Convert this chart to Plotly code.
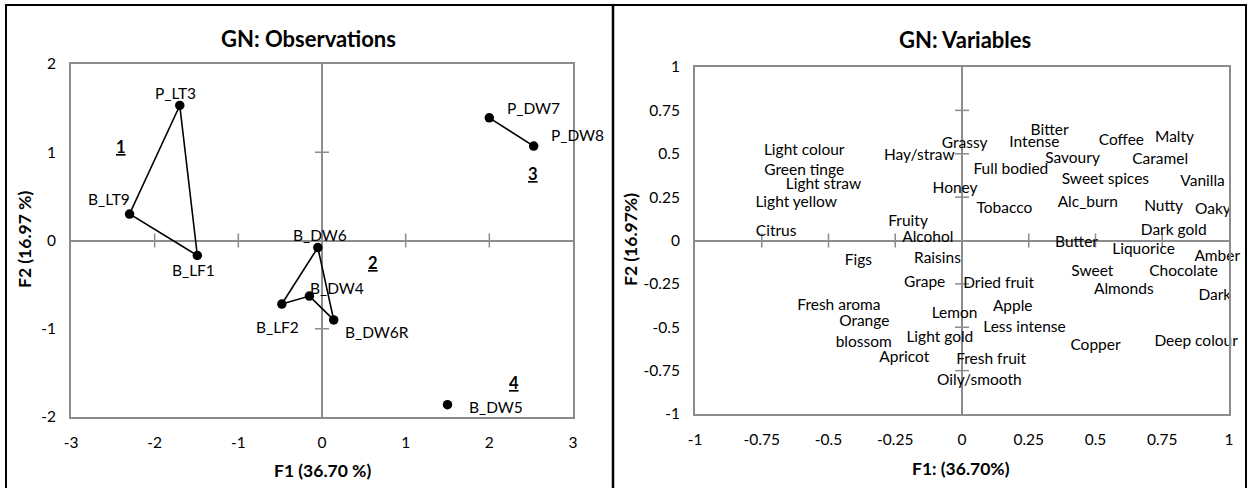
import plotly.graph_objects as go

# ---------------- Data ----------------
obs_names = ["P_LT3", "B_LT9", "B_LF1", "P_DW7", "P_DW8", "B_DW6", "B_DW4", "B_LF2", "B_DW6R", "B_DW5"]
obs_f1 = [-1.70, -2.30, -1.49, 2.00, 2.53, -0.05, -0.15, -0.48, 0.14, 1.50]
obs_f2 = [1.53, 0.30, -0.17, 1.39, 1.07, -0.08, -0.63, -0.72, -0.90, -1.86]

group1 = ["P_LT3", "B_LT9", "B_LF1", "P_LT3"]
group2 = ["B_DW6", "B_LF2", "B_DW4", "B_DW6R", "B_DW6"]
group3 = ["P_DW7", "P_DW8"]

group_labels = ["1", "2", "3", "4"]
group_f1 = [-2.40, 0.61, 2.52, 2.30]
group_f2 = [1.06, -0.25, 0.75, -1.61]

var_names = ["Light colour", "Green tinge", "Light straw", "Light yellow", "Citrus", "Hay/straw",
             "Grassy", "Honey", "Fruity", "Alcohol", "Figs", "Raisins", "Grape", "Dried fruit",
             "Fresh aroma", "Orange", "blossom", "Lemon", "Apple", "Less intense", "Light gold",
             "Apricot", "Fresh fruit", "Oily/smooth", "Bitter", "Intense", "Coffee", "Malty",
             "Full bodied", "Savoury", "Caramel", "Sweet spices", "Vanilla", "Tobacco", "Alc_burn",
             "Nutty", "Oaky", "Dark gold", "Butter", "Liquorice", "Amber", "Sweet", "Chocolate",
             "Almonds", "Dark", "Copper", "Deep colour"]
var_f1 = [-0.591, -0.591, -0.519, -0.621, -0.696, -0.160, 0.010, -0.026, -0.202, -0.128, -0.388,
          -0.092, -0.140, 0.137, -0.461, -0.366, -0.368, -0.028, 0.190, 0.234, -0.083, -0.216,
          0.109, 0.065, 0.328, 0.271, 0.597, 0.796, 0.183, 0.414, 0.742, 0.537, 0.901, 0.159,
          0.471, 0.755, 0.940, 0.793, 0.429, 0.680, 0.956, 0.488, 0.830, 0.606, 0.947, 0.500, 0.877]
var_f2 = [0.515, 0.400, 0.319, 0.218, 0.051, 0.488, 0.555, 0.296, 0.108, 0.011, -0.116, -0.108,
          -0.244, -0.254, -0.379, -0.473, -0.592, -0.427, -0.386, -0.503, -0.561, -0.676, -0.691,
          -0.812, 0.632, 0.563, 0.574, 0.592, 0.405, 0.469, 0.465, 0.348, 0.338, 0.183, 0.218,
          0.191, 0.175, 0.053, -0.014, -0.058, -0.093, -0.185, -0.181, -0.288, -0.321, -0.607, -0.586]

left_xticks = [-3, -2, -1, 0, 1, 2, 3]
left_yticks = [-2, -1, 0, 1, 2]
right_ticks = [-1, -0.75, -0.5, -0.25, 0, 0.25, 0.5, 0.75, 1]

# label offsets (pixels) for observation names: (xshift, yshift)
obs_label_shift = {
    "P_LT3": (-4, 12), "B_LT9": (-21, 15), "B_LF1": (-4, -14), "P_DW7": (44, 10),
    "P_DW8": (44, 11), "B_DW6": (2, 13), "B_DW4": (28, 8), "B_LF2": (-4, -23),
    "B_DW6R": (43, -12), "B_DW5": (48, -2),
}

FONT = "Lato"
GREY = "#8c8c8c"


def fmt(v):
    return f"{v:g}"


fig = go.Figure()
idx = {n: i for i, n in enumerate(obs_names)}

# group polygons
for grp in (group1, group2, group3):
    fig.add_trace(go.Scatter(
        x=[obs_f1[idx[n]] for n in grp], y=[obs_f2[idx[n]] for n in grp],
        mode="lines", line=dict(color="black", width=1.6),
        xaxis="x", yaxis="y", showlegend=False, hoverinfo="skip"))

tick_marker_x = dict(symbol="line-ns-open", size=10, color=GREY, line=dict(color=GREY, width=1.5))
tick_marker_y = dict(symbol="line-ew-open", size=10, color=GREY, line=dict(color=GREY, width=1.5))

# tick crosses on zero lines (left)
lx = [t for t in left_xticks if t not in (0, -3, 3)]
ly = [t for t in left_yticks if t not in (0, -2, 2)]
fig.add_trace(go.Scatter(x=lx, y=[0] * len(lx), mode="markers", marker=tick_marker_x,
                         xaxis="x", yaxis="y", showlegend=False, hoverinfo="skip"))
fig.add_trace(go.Scatter(x=[0] * len(ly), y=ly, mode="markers", marker=tick_marker_y,
                         xaxis="x", yaxis="y", showlegend=False, hoverinfo="skip"))

# observation points
fig.add_trace(go.Scatter(x=obs_f1, y=obs_f2, mode="markers",
                         marker=dict(color="black", size=9.5),
                         xaxis="x", yaxis="y", showlegend=False))

# tick crosses on zero lines (right)
rt = [t for t in right_ticks if t not in (0, -1, 1)]
fig.add_trace(go.Scatter(x=rt, y=[0] * len(rt), mode="markers", marker=tick_marker_x,
                         xaxis="x2", yaxis="y2", showlegend=False, hoverinfo="skip"))
fig.add_trace(go.Scatter(x=[0] * len(rt), y=rt, mode="markers", marker=tick_marker_y,
                         xaxis="x2", yaxis="y2", showlegend=False, hoverinfo="skip"))

# variable labels
fig.add_trace(go.Scatter(x=var_f1, y=var_f2, mode="text", text=var_names,
                         textposition="middle center", cliponaxis=False,
                         textfont=dict(family=FONT, size=15.5, color="black"),
                         xaxis="x2", yaxis="y2", showlegend=False))

annotations = []
for n, x, y in zip(obs_names, obs_f1, obs_f2):
    dx, dy = obs_label_shift[n]
    annotations.append(dict(x=x, y=y, xref="x", yref="y", text=n, showarrow=False,
                            xanchor="center", yanchor="middle",
                            xshift=dx, yshift=dy, font=dict(family=FONT, size=15.5, color="black")))
for g, x, y in zip(group_labels, group_f1, group_f2):
    annotations.append(dict(x=x, y=y, xref="x", yref="y", text=f"<b><u>{g}</u></b>",
                            xanchor="center", yanchor="middle",
                            showarrow=False, font=dict(family=FONT, size=16.5, color="black")))


def paper_text(px, py, text, size, angle=0):
    return dict(x=px / 1248, y=1 - py / 488, xref="paper", yref="paper", text=text,
                xanchor="center", yanchor="middle", showarrow=False, textangle=angle,
                font=dict(family=FONT, size=size, color="black"))


annotations += [
    paper_text(308, 38, "<b>GN: Observations</b>", 22),
    paper_text(965, 39, "<b>GN: Variables</b>", 22),
    paper_text(322, 470, "<b>F1 (36.70 %)</b>", 17.5),
    paper_text(961, 468, "<b>F1: (36.70%)</b>", 17.5),
    paper_text(24, 240, "<b>F2 (16.97 %)</b>", 17.5, -90),
    paper_text(630, 240, "<b>F2 (16.97%)</b>", 17.5, -90),
]

axis_common = dict(showgrid=False, zeroline=True, zerolinecolor=GREY, zerolinewidth=1.5,
                   showline=True, linecolor=GREY, linewidth=2, mirror=True, ticks="",
                   tickfont=dict(family=FONT, size=15.5, color="black"), ticklabelstandoff=10)

fig.update_layout(
    width=1248, height=488, autosize=False, margin=dict(l=0, r=0, t=0, b=0, autoexpand=False),
    paper_bgcolor="white", plot_bgcolor="white",
    xaxis=dict(domain=[71 / 1248, 573 / 1248], range=[-3, 3], tickvals=left_xticks,
               ticktext=[fmt(v) for v in left_xticks], anchor="y", **axis_common),
    yaxis=dict(domain=[(488 - 417) / 488, (488 - 64) / 488], range=[-2, 2], tickvals=left_yticks,
               ticktext=[fmt(v) for v in left_yticks], anchor="x", **axis_common),
    xaxis2=dict(domain=[695 / 1248, 1229 / 1248], range=[-1, 1], tickvals=right_ticks,
                ticktext=[fmt(v) for v in right_ticks], anchor="y2", **axis_common),
    yaxis2=dict(domain=[(488 - 414) / 488, (488 - 67) / 488], range=[-1, 1], tickvals=right_ticks,
                ticktext=[fmt(v) for v in right_ticks], anchor="x2", **axis_common),
    annotations=annotations,
    shapes=[
        dict(type="rect", xref="paper", yref="paper", x0=6 / 1248, x1=1246 / 1248,
             y0=-0.02, y1=1 - 5 / 488, line=dict(color="black", width=2)),
        dict(type="line", xref="paper", yref="paper", x0=613 / 1248, x1=613 / 1248,
             y0=-0.02, y1=1 - 5 / 488, line=dict(color="black", width=2.5)),
    ],
)

fig.write_html(
    "out.html",
    config={"responsive": False},
    post_script="document.body.style.margin='0';document.body.style.padding='0';"
                "document.body.style.overflow='hidden';",
)
